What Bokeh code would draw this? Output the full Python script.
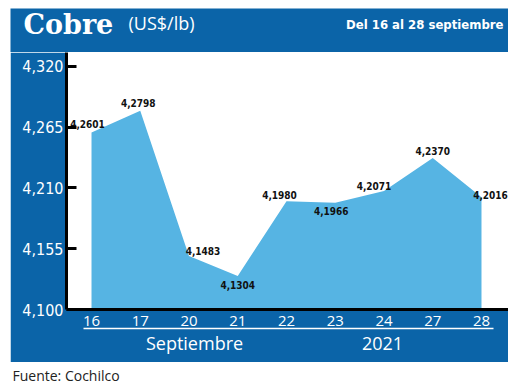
from bokeh.plotting import figure
from bokeh.models import FixedTicker, Label, ColumnDataSource, LinearAxis, Spacer
from bokeh.layouts import column, row
from bokeh.core.properties import value
from bokeh.embed import file_html
from bokeh.resources import INLINE

# ---- data ----
days = ["16", "17", "20", "21", "22", "23", "24", "27", "28"]
prices = [4.2601, 4.2798, 4.1483, 4.1304, 4.1980, 4.1966, 4.2071, 4.2370, 4.2016]
price_labels = ["4,2601", "4,2798", "4,1483", "4,1304", "4,1980", "4,1966", "4,2071", "4,2370", "4,2016"]
y_ticks = [4.100, 4.155, 4.210, 4.265, 4.320]
y_tick_labels = ["4,100", "4,155", "4,210", "4,265", "4,320"]
group_labels = ["Septiembre", "2021"]
title = "Cobre"
unit = "(US$/lb)"
period = "Del 16 al 28 septiembre"
source_txt = "Fuente: Cochilco"

# ---- styling / positions ----
lab_dx = [-4, -2, 14, 0, -7, -4, -10, 0, 9]
lab_dy = [-9, -8, -5, 9, -6, 8, -5, -7, -2]
group_pos = [2.113, 5.969]          # x-positions of the group captions
rule_bounds = (-0.164, 8.246)

BLUE = "#0b64a8"
AREA = "#56b4e3"
COND = "DejaVu Sans Condensed"
PW = 498          # panel width
PH = 310          # main chart height
FH = 24           # footer height

idx = list(range(len(days)))
src = ColumnDataSource(dict(x=idx, y=prices, base=[y_ticks[0]] * len(idx),
                            lab=price_labels, dx=lab_dx, dy=lab_dy))

# ---- header bar ----
hdr = figure(width=PW, height=44, output_backend="svg", toolbar_location=None, title=None,
             x_axis_location=None, y_axis_location=None, min_border=0,
             border_fill_color=BLUE, background_fill_color=BLUE, outline_line_color=None,
             x_range=(0, 1), y_range=(0, 1))
hdr.grid.visible = False
hdr.add_layout(Label(x=13, y=28.5, x_units="screen", y_units="screen", text=title,
                     text_font="DejaVu Serif", text_font_style="bold", text_font_size="27px",
                     text_color="white", text_baseline="middle"))
hdr.add_layout(Label(x=118, y=30, x_units="screen", y_units="screen", text=unit,
                     text_font="Open Sans", text_font_size="18px",
                     text_color="white", text_baseline="middle"))
hdr.add_layout(Label(x=493, y=28.2, x_units="screen", y_units="screen", text=period,
                     text_font=COND, text_font_style="bold", text_font_size="13px",
                     text_color="white", text_baseline="middle", text_align="right"))

# ---- main chart ----
p = figure(width=PW, height=PH, output_backend="svg", toolbar_location=None,
           x_range=(-0.513, 8.554), y_range=(y_ticks[0], 4.3325),
           min_border_left=56, min_border_right=0, min_border_top=0, min_border_bottom=53,
           border_fill_color=BLUE, background_fill_color="white", outline_line_color=None)
p.grid.visible = False

p.varea(x="x", y1="base", y2="y", source=src, fill_color=AREA, fill_alpha=1)
p.text(x="x", y="y", text="lab", x_offset="dx", y_offset="dy", source=src,
       text_align="center", text_baseline="middle", text_color="#111111",
       text_font=value(COND), text_font_style="bold", text_font_size="10px")

ya = p.yaxis[0]
ya.ticker = FixedTicker(ticks=y_ticks)
ya.major_label_overrides = dict(zip(y_ticks, y_tick_labels))
ya.axis_line_width = 3
ya.axis_line_color = "black"
ya.major_tick_in = 10
ya.major_tick_out = 0
ya.major_tick_line_width = 3
ya.minor_tick_line_color = None
ya.major_label_text_color = "white"
ya.major_label_text_font = COND
ya.major_label_text_font_size = "16px"
ya.major_label_standoff = 3

xa = p.xaxis[0]
xa.ticker = FixedTicker(ticks=idx)
xa.major_label_overrides = dict(zip(idx, days))
xa.axis_line_width = 3
xa.axis_line_color = "black"
xa.major_tick_in = 0
xa.major_tick_out = 0
xa.minor_tick_line_color = None
xa.major_label_text_color = "white"
xa.major_label_text_font = "Open Sans"
xa.major_label_text_font_size = "15px"
xa.major_label_standoff = 6

grp = LinearAxis(bounds=rule_bounds, ticker=FixedTicker(ticks=group_pos),
                 major_label_overrides=dict(zip(group_pos, group_labels)),
                 axis_line_color="white", axis_line_width=1.5,
                 major_tick_in=0, major_tick_out=0, minor_tick_line_color=None,
                 major_label_text_color="white", major_label_text_font="Open Sans",
                 major_label_text_font_size="18px", major_label_standoff=2)
p.add_layout(grp, "below")

# ---- footer ----
ftr = figure(width=510, height=FH, output_backend="svg", toolbar_location=None, title=None,
             x_axis_location=None, y_axis_location=None, min_border=0,
             border_fill_color="white", background_fill_color="white", outline_line_color=None,
             x_range=(0, 1), y_range=(0, 1))
ftr.grid.visible = False
ftr.add_layout(Label(x=12, y=11.4, x_units="screen", y_units="screen", text=source_txt,
                     text_font="Open Sans", text_font_size="14px",
                     text_color="#222222", text_baseline="middle"))

layout = column(Spacer(width=510, height=8),
                row(Spacer(width=10, height=44), hdr, spacing=0),
                row(Spacer(width=10, height=PH), p, spacing=0),
                ftr, spacing=0)
open("out.html", "w").write(file_html(layout, INLINE))
